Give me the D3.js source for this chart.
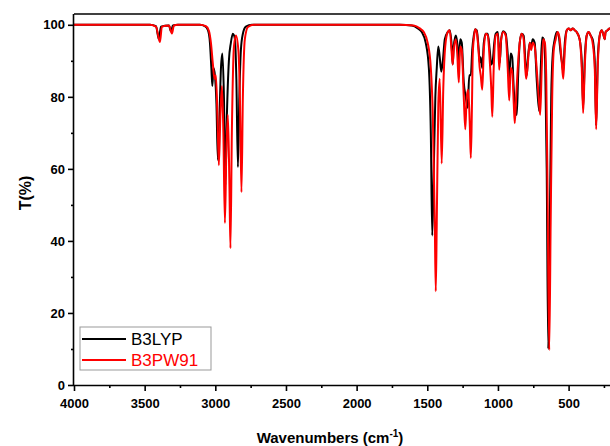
<!DOCTYPE html>
<html><head><meta charset="utf-8">
<script src="https://cdn.jsdelivr.net/npm/d3@7"></script>
<style>
html,body{margin:0;padding:0;background:#fff;}
text{font-family:"Liberation Sans",Arial,sans-serif;}
</style></head>
<body>
<svg id="chart" width="610" height="446"></svg>
<script>
// ---- data (wavenumber cm-1, transmittance %) ----
const seriesNames = ["B3LYP", "B3PW91"];
const seriesColors = ["#000000", "#ff0000"];
const xTickValues = [4000, 3500, 3000, 2500, 2000, 1500, 1000, 500];
const yTickValues = [0, 20, 40, 60, 80, 100];

const b3lyp = [
[4000,100],[3462,100],[3420,99.6],[3399,96],[3385,99.5],[3328,99.8],[3314,98.2],[3300,99.8],[3265,100],
[3109,100],[3074,99.6],[3052,98.5],[3038,95],[3028,88],[3021,83],[3013,88],[3003,86],[2992,78],[2982,62.5],[2971,74],[2960,88],[2950,92],[2939,80],[2929,55.5],[2918,75],[2904,90],[2890,95],[2876,97.5],[2861,96],[2851,85],[2840,60.5],[2830,80],[2819,93],[2805,97.5],[2784,99.5],[2741,100],
[1695,100],[1610,99.8],[1567,99],[1539,98],[1511,95],[1489,88],[1475,70],[1465,41.5],[1454,60],[1443,80],[1433,88],[1422,94],[1412,91],[1401,87],[1390,90],[1376,96],[1355,98],
[1341,98.5],[1327,94],[1320,89],[1313,94],[1298,97],[1288,95],[1277,90],[1267,96],[1256,95],[1242,84],[1228,80],[1214,77],[1203,86],[1192,86],[1182,93],[1171,97],[1161,98.8],[1150,98.5],[1136,93],[1129,89.5],[1122,91],[1111,88],[1100,95],[1086,97.5],[1072,97.5],[1058,93],[1047,89],[1037,90],[1026,95],[1016,97.5],[1001,98],[987,89.5],[977,96],[963,98.2],[945,97.5],[931,92],[920,85],[910,92],[899,91],[888,82],[874,76],[867,75],[857,86],[846,95],[832,97.5],[818,97],[803,88],[796,86],[789,90],[775,95],[765,94],[754,96],[740,95],[726,85],[708,76],[697,88],[687,96.5],[676,96],[666,90],[655,60],[644,10],[634,40],[623,80],[612,92],[598,96],[584,98],[570,97],[556,92],[545,89],[538,87],[527,95],[513,98.5],[499,99],[485,98.5],[471,99],[457,98.5],[443,98],[422,96],[407,90],[397,77],[386,90],[372,97],[358,98],[344,97],[330,96],[315,90],[305,72],[294,90],[280,97],[266,98.5],[252,97],[245,96],[238,98],[224,98.5],[209,99],[195,99]
];

const b3pw91 = [
[4000,100],[3462,100],[3420,99.5],[3392,95.2],[3378,99.5],[3328,99.8],[3307,97.6],[3293,99.8],[3265,100],
[3109,100],[3066,99.6],[3045,98.3],[3031,95],[3017,89],[3006,85],[2996,86],[2985,75],[2975,61],[2964,75],[2953,83],[2943,70],[2932,45],[2922,65],[2911,75],[2900,55],[2893,38],[2883,70],[2868,94],[2854,97],[2837,93],[2826,80],[2815,53.5],[2805,80],[2791,96],[2769,99.4],[2727,100],
[1695,100],[1596,99.8],[1553,99],[1525,98],[1497,95],[1475,88],[1461,75],[1447,45],[1440,26],[1433,45],[1422,78],[1412,85],[1398,61.5],[1387,82],[1373,94],[1355,98],
[1341,98.5],[1327,92],[1320,89],[1313,93],[1298,96],[1288,92],[1277,84],[1267,94],[1256,93],[1242,80],[1231,71],[1221,80],[1210,82],[1199,72],[1192,63],[1185,75],[1178,92],[1168,97],[1161,98.8],[1150,98],[1136,92],[1129,88],[1122,86],[1111,82],[1100,93],[1086,97.5],[1072,97],[1058,90],[1047,82],[1040,74.5],[1030,88],[1016,97],[1001,97.5],[991,87.5],[980,95],[963,98],[945,97],[931,88],[920,79],[910,88],[899,87],[888,78],[881,72.7],[871,80],[860,88],[846,95],[832,97.5],[818,96],[807,88],[800,85],[789,89],[775,95],[765,93],[754,95],[740,94],[726,88],[712,80],[701,75],[690,88],[680,96],[668,95],[658,85],[648,50],[637,9.7],[627,45],[616,80],[605,93],[591,96],[577,98],[563,96],[549,90],[538,85],[527,93],[513,98.5],[499,99],[485,98.5],[471,99],[457,98.5],[443,98],[422,96],[407,88],[397,75.5],[386,88],[372,97],[358,98],[344,97],[330,95],[315,88],[305,71],[294,88],[280,97],[266,98.5],[252,97],[245,96],[238,98],[224,98.5],[209,99],[195,99]
];

// ---- layout ----
const svg = d3.select("#chart");
const mLeft = 74, mRight = 611, mTop = 14, mBottom = 385;
const x = d3.scaleLinear().domain([4000, 200]).range([mLeft, mRight]);
const y = d3.scaleLinear().domain([0, 103]).range([mBottom, mTop]);

svg.append("defs").append("clipPath").attr("id","clip")
  .append("rect").attr("x",mLeft).attr("y",mTop).attr("width",mRight-mLeft).attr("height",mBottom-mTop);

// frame top/right
svg.append("line").attr("x1",mLeft).attr("x2",mRight).attr("y1",mTop).attr("y2",mTop)
  .attr("stroke","#000").attr("stroke-width",1.6);
svg.append("line").attr("x1",mRight).attr("x2",mRight).attr("y1",mTop).attr("y2",mBottom)
  .attr("stroke","#000").attr("stroke-width",1.6);

// curves
const line = d3.line().x(d=>x(d[0])).y(d=>y(d[1])).curve(d3.curveMonotoneX);
const g = svg.append("g").attr("clip-path","url(#clip)");
[b3lyp, b3pw91].forEach((s,i)=>{
  g.append("path").datum(s).attr("d",line).attr("fill","none")
   .attr("stroke",seriesColors[i]).attr("stroke-width",2).attr("stroke-linejoin","round");
});

// axes
const xAxis = d3.axisBottom(x).tickValues(xTickValues).tickSize(6).tickFormat(d3.format("d"));
const xMinor = d3.axisBottom(x).tickValues([3750,3250,2750,2250,1750,1250,750,250]).tickSize(3).tickFormat("");
const yAxis = d3.axisLeft(y).tickValues(yTickValues).tickSize(6);
const yMinor = d3.axisLeft(y).tickValues([10,30,50,70,90]).tickSize(3).tickFormat("");

function styleAxis(sel){
  sel.select(".domain").attr("stroke","#000").attr("stroke-width",1.6);
  sel.selectAll(".tick line").attr("stroke","#000").attr("stroke-width",1.6);
  sel.selectAll(".tick text").attr("font-family","'Liberation Sans',Arial,sans-serif")
    .attr("font-size",13).attr("font-weight","bold").attr("fill","#000");
}
const gxm = svg.append("g").attr("transform",`translate(0,${mBottom})`).call(xMinor); styleAxis(gxm);
gxm.select(".domain").remove();
const gx = svg.append("g").attr("transform",`translate(0,${mBottom})`).call(xAxis); styleAxis(gx);
gx.select(".domain").attr("d",`M${mLeft},0.5H${mRight}`);
gx.selectAll(".tick text").attr("dy","1.05em");
const gym = svg.append("g").attr("transform",`translate(${mLeft},0)`).call(yMinor); styleAxis(gym);
gym.select(".domain").remove();
const gy = svg.append("g").attr("transform",`translate(${mLeft},0)`).call(yAxis); styleAxis(gy);
gy.select(".domain").attr("d",`M-0.5,${mTop}V${mBottom}`);
gy.selectAll(".tick text").attr("x",-9);

// axis titles
svg.append("text").attr("transform","translate(31,193) rotate(-90)").attr("text-anchor","middle")
  .attr("font-size",16).attr("font-weight","bold").text("T(%)");
const xt = svg.append("text").attr("x",330).attr("y",443).attr("text-anchor","middle")
  .attr("font-size",15).attr("font-weight","bold");
xt.append("tspan").text("Wavenumbers (cm");
xt.append("tspan").attr("dy",-6).attr("font-size",10).text("-1");
xt.append("tspan").attr("dy",6).text(")");

// legend
const lg = svg.append("g");
lg.append("rect").attr("x",80).attr("y",327).attr("width",131).attr("height",43)
  .attr("fill","#fff").attr("stroke","#999").attr("stroke-width",1);
seriesNames.forEach((n,i)=>{
  const yy = 339 + i*21;
  lg.append("line").attr("x1",82).attr("x2",126).attr("y1",yy).attr("y2",yy)
    .attr("stroke",seriesColors[i]).attr("stroke-width",2);
  lg.append("text").attr("x",131).attr("y",yy).attr("dy","0.35em")
    .attr("font-size",17).attr("fill",seriesColors[i]).text(n);
});
</script>
</body></html>
